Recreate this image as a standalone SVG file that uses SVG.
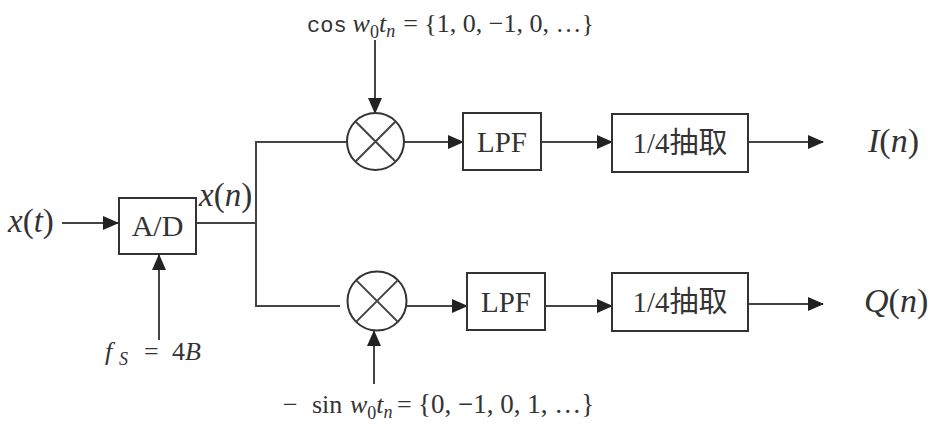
<svg xmlns="http://www.w3.org/2000/svg" width="930" height="432" viewBox="0 0 930 432">
<style>
.ln{fill:none;stroke:#444;stroke-width:2}
.bx{fill:#fff;stroke:#333;stroke-width:2}
.t{fill:#333}
.i{font-style:italic}
</style>
<defs>
<marker id="ah" markerUnits="userSpaceOnUse" markerWidth="16" markerHeight="14" viewBox="0 0 16 14" refX="15" refY="7" orient="auto">
<path d="M0,0 L16,7 L0,14 Z" fill="#222"/>
</marker>
</defs>
<rect width="930" height="432" fill="#fff"/>
<g id="connectors">
<line class="ln" x1="62" y1="223" x2="118" y2="223" marker-end="url(#ah)"/>
<line class="ln" x1="159" y1="340" x2="159" y2="255" marker-end="url(#ah)"/>
<polyline class="ln" points="196,223 256,223"/>
<polyline class="ln" points="347,142 256,142 256,306 340,306"/>
<line class="ln" x1="375" y1="40" x2="375" y2="113" marker-end="url(#ah)"/>
<line class="ln" x1="404" y1="142" x2="463" y2="142" marker-end="url(#ah)"/>
<line class="ln" x1="541" y1="142" x2="612" y2="142" marker-end="url(#ah)"/>
<line class="ln" x1="748" y1="142" x2="823" y2="142" marker-end="url(#ah)"/>
<line class="ln" x1="374" y1="384" x2="374" y2="331" marker-end="url(#ah)"/>
<line class="ln" x1="406" y1="306" x2="467" y2="306" marker-end="url(#ah)"/>
<line class="ln" x1="545" y1="306" x2="612" y2="306" marker-end="url(#ah)"/>
<line class="ln" x1="748" y1="304" x2="823" y2="304" marker-end="url(#ah)"/>
</g>
<g font-family="Liberation Serif, Noto Sans CJK SC, serif">
<g id="ad">
<rect class="bx" x="119" y="198" width="77" height="56"/>
<text class="t" x="157.5" y="236" font-size="30" text-anchor="middle">A/D</text>
</g>
<g id="mix1">
<circle class="bx" cx="375.5" cy="141.5" r="28.5"/>
<path class="ln" d="M355.3,121.3 L395.7,161.7 M395.7,121.3 L355.3,161.7" stroke-width="1.5"/>
</g>
<g id="mix2">
<circle class="bx" cx="377" cy="301" r="29.5"/>
<path class="ln" d="M356.1,280.1 L397.9,321.9 M397.9,280.1 L356.1,321.9" stroke-width="1.5"/>
</g>
<g id="lpf1">
<rect class="bx" x="463" y="113" width="78" height="57"/>
<text class="t" x="502" y="152" font-size="29" text-anchor="middle">LPF</text>
</g>
<g id="lpf2">
<rect class="bx" x="467" y="273" width="78" height="57"/>
<text class="t" x="506" y="312" font-size="29" text-anchor="middle">LPF</text>
</g>
<g id="dec1">
<rect class="bx" x="612" y="114" width="136" height="58"/>
<text class="t" x="680" y="153" font-size="29" text-anchor="middle">1/4抽取</text>
</g>
<g id="dec2">
<rect class="bx" x="612" y="273" width="136" height="58"/>
<text class="t" x="680" y="312" font-size="29" text-anchor="middle">1/4抽取</text>
</g>
<g id="labels">
<text class="t" x="8" y="232" font-size="33"><tspan class="i">x</tspan>(<tspan class="i">t</tspan>)</text>
<text class="t" x="199" y="206" font-size="33"><tspan class="i">x</tspan>(<tspan class="i">n</tspan>)</text>
<text class="t" x="868" y="152" font-size="34"><tspan class="i">I</tspan>(<tspan class="i">n</tspan>)</text>
<text class="t" x="864" y="312" font-size="34"><tspan class="i">Q</tspan>(<tspan class="i">n</tspan>)</text>
<text class="t" x="307" y="32" font-size="26"><tspan font-family="Liberation Mono, monospace" font-size="22">cos</tspan><tspan dx="6" class="i">w</tspan><tspan font-size="18" dy="6">0</tspan><tspan class="i" dy="-6">t</tspan><tspan class="i" font-size="18" dy="5">n</tspan><tspan dy="-5" dx="8">= {1, 0, −1, 0, …}</tspan></text>
<text class="t" x="283" y="413" font-size="26">−<tspan x="312">sin</tspan><tspan x="350" class="i">w</tspan><tspan font-size="18" dy="6">0</tspan><tspan class="i" dy="-6">t</tspan><tspan class="i" font-size="18" dy="5">n</tspan><tspan dy="-5" x="397">=</tspan><tspan x="418" font-size="27">{0, −1, 0, 1, …}</tspan></text>
<text class="t" x="105" y="360" font-size="26"><tspan class="i">f</tspan><tspan class="i" font-size="18" x="119" dy="5">S</tspan><tspan dy="-5" x="144">=</tspan><tspan x="172">4</tspan><tspan class="i" x="185">B</tspan></text>
</g>
</g>
</svg>
